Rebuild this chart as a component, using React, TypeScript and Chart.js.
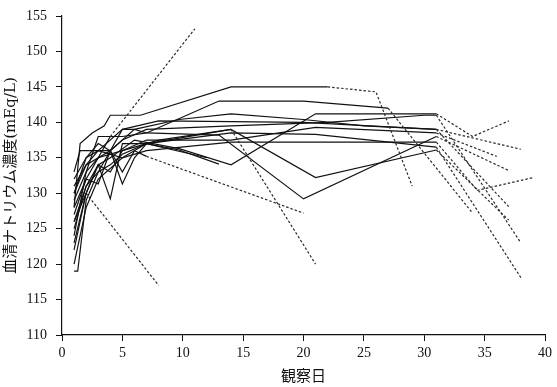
import React, { useEffect, useRef } from "react";
import { Chart, registerables } from "chart.js";

Chart.register(...registerables);

type Pt = [number, number];

// ---- axis ranges / labels ----
const X_MIN = 0;
const X_MAX = 40;
const X_STEP = 5;
const Y_MIN = 110;
const Y_MAX = 155;
const Y_STEP = 5;
const X_TITLE = "観察日";
const Y_TITLE = "血清ナトリウム濃度(mEq/L)";

// ---- solid (observed) series: [day, serum Na] ----
const solidA: Pt[] = [[1, 128], [1.5, 137], [2.5, 138.5], [3.5, 139.5], [4, 141], [6.5, 141], [14, 145], [22, 145]];
const solidB: Pt[] = [[1, 124], [2, 133], [3, 138], [5, 138], [7, 138.5], [13, 143], [20, 143], [27, 142]];
const solidC: Pt[] = [[1, 130], [2, 135], [3, 136], [4, 136], [6, 139], [9.7, 140.4], [14, 141.2], [20, 140.4], [25, 139.5], [31, 139]];
const solidD: Pt[] = [[1, 122], [2, 130], [3, 134], [4, 135], [6, 137.5], [9.7, 136.3], [14, 134], [21, 141.2], [31, 141.2]];
const solidE: Pt[] = [[1, 126], [2, 131], [3, 133], [4, 136], [5, 139], [6, 139], [7, 138.5], [13, 138.2], [20, 129.2], [31, 138]];
const solidF: Pt[] = [[1, 129], [2, 133], [3, 135], [5, 136], [8, 137.5], [14, 139], [21, 132.2], [31, 136.1]];
const solidG: Pt[] = [[1, 120], [2, 128], [3, 132], [5, 135], [7, 137], [9.7, 136.1], [13, 134.1]];
const solidH: Pt[] = [[1, 131], [2, 134], [3, 136], [5, 135], [7, 136], [14, 137.2], [31, 137.2]];
const solidI: Pt[] = [[1, 133], [1.5, 136], [3, 136], [5, 139], [8, 140.2], [20, 140], [31, 139]];
const solidJ: Pt[] = [[1, 125], [2, 131], [3, 134], [4, 133], [5, 136], [7, 137.5], [14, 137.5], [21, 139.3], [31, 138.5]];
const solidK: Pt[] = [[1, 132], [2, 135], [3, 137], [4, 136], [5, 137.5], [7, 139], [14, 139.5], [22, 140], [30, 141], [31, 141]];
const solidX: Pt[] = [[1, 119], [1.3, 119], [2, 129], [3, 133], [4, 134], [5, 135.5], [7, 137], [14, 138.5], [21, 138.3], [31, 136.5]];
const solidP: Pt[] = [[1, 127], [2, 132], [3, 135], [4, 138]];
const solidQ: Pt[] = [[1, 123], [2, 130]];
const solidR: Pt[] = [[1, 128], [2, 132], [3, 131.3], [4, 136], [5, 133], [6, 136], [7, 135.2]];
const solidS: Pt[] = [[1, 126], [2, 130], [3, 134], [4, 129.2], [5, 137], [7, 137], [14, 139]];
const solidN: Pt[] = [[1, 130], [2, 134], [4, 136], [5, 131.3], [6, 135], [7, 137], [12, 135]];

// ---- dashed continuation series ----
const dashA: Pt[] = [[22, 145], [26, 144.3], [29, 131]];
const dashB: Pt[] = [[27, 142], [34, 127.2]];
const dashC: Pt[] = [[31, 139], [37, 128.1]];
const dashD: Pt[] = [[31, 141.2], [34, 138], [37, 140.2]];
const dashE: Pt[] = [[31, 138], [37, 133.2]];
const dashF: Pt[] = [[31, 136.1], [37, 126.2]];
const dashH: Pt[] = [[31, 137.2], [34.4, 130.4], [39, 132.2]];
const dashI: Pt[] = [[31, 139], [38, 136.2]];
const dashJ: Pt[] = [[31, 138.5], [36, 135.2]];
const dashK: Pt[] = [[31, 141], [38, 123]];
const dashX: Pt[] = [[31, 136.5], [38, 118.1]];
const dashP: Pt[] = [[4, 138], [11, 153.2]];
const dashQ: Pt[] = [[2, 130], [8, 117]];
const dashR: Pt[] = [[7, 135.2], [20, 127.2]];
const dashS: Pt[] = [[14, 139], [21, 120]];

const solidSeries: Pt[][] = [solidA, solidB, solidC, solidD, solidE, solidF, solidG, solidH, solidI, solidJ, solidK, solidX, solidP, solidQ, solidR, solidS, solidN];
const dashedSeries: Pt[][] = [dashA, dashB, dashC, dashD, dashE, dashF, dashH, dashI, dashJ, dashK, dashX, dashP, dashQ, dashR, dashS];

const SERIF = "'Liberation Serif', 'Noto Sans CJK JP', serif";
const TITLE_FONT = "'DejaVu Serif', 'Noto Sans CJK JP', serif";

export default function App() {
  const ref = useRef<HTMLCanvasElement>(null);

  useEffect(() => {
    if (!ref.current) return;
    const toXY = (s: Pt[]) => s.map(([x, y]) => ({ x, y }));
    const datasets: any[] = [
      ...dashedSeries.map((s) => ({
        data: toXY(s),
        borderColor: "#2a2a2a",
        borderWidth: 1.2,
        borderDash: [2.5, 2],
        pointRadius: 0,
        fill: false,
        tension: 0,
      })),
      ...solidSeries.map((s) => ({
        data: toXY(s),
        borderColor: "#111",
        borderWidth: 1.2,
        pointRadius: 0,
        fill: false,
        tension: 0,
      })),
    ];

    const chart = new Chart(ref.current, {
      type: "line",
      data: { datasets },
      options: {
        animation: false,
        responsive: false,
        devicePixelRatio: 1,
        layout: { padding: { top: 7, right: 9, left: 0, bottom: 0 } },
        plugins: { legend: { display: false }, tooltip: { enabled: false } },
        scales: {
          x: {
            type: "linear",
            min: X_MIN,
            max: X_MAX,
            ticks: {
              stepSize: X_STEP,
              color: "#111",
              padding: 5,
              font: { family: SERIF, size: 14, lineHeight: 1 },
            },
            grid: { drawOnChartArea: false, drawTicks: true, tickLength: 6, tickColor: "#111" },
            border: { color: "#111", width: 1.2 },
            title: {
              display: true,
              text: X_TITLE,
              color: "#111",
              font: { family: TITLE_FONT, size: 15 },
              padding: { top: 0, bottom: 1 },
            },
            afterFit: (s: any) => {
              s.height = 52;
            },
          } as any,
          y: {
            type: "linear",
            min: Y_MIN,
            max: Y_MAX,
            ticks: {
              stepSize: Y_STEP,
              color: "#111",
              padding: 9,
              font: { family: SERIF, size: 14, lineHeight: 1 },
            },
            grid: { drawOnChartArea: false, drawTicks: true, tickLength: 6, tickColor: "#111" },
            border: { color: "#111", width: 1.2 },
            title: {
              display: true,
              text: Y_TITLE,
              color: "#111",
              font: { family: TITLE_FONT, size: 15 },
              padding: { top: 2, bottom: 0 },
            },
            afterFit: (s: any) => {
              s.width = 62;
            },
          } as any,
        },
      },
    });
    return () => chart.destroy();
  }, []);

  return (
    <div style={{ position: "fixed", left: 0, top: 0, width: 557, height: 387, background: "#fff" }}>
      <canvas ref={ref} width={557} height={387} style={{ display: "block" }} />
    </div>
  );
}
